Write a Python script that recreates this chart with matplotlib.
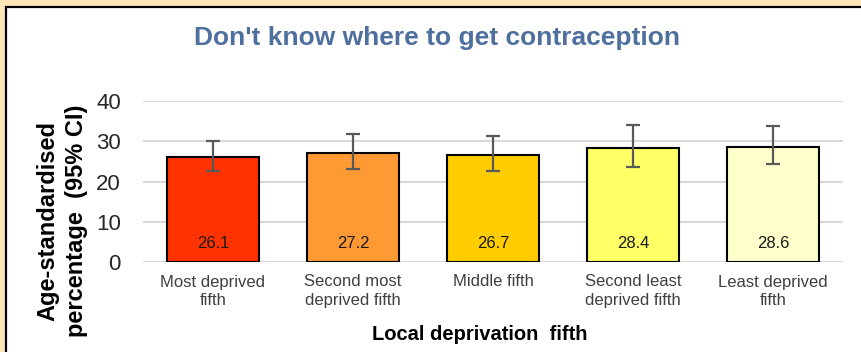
import matplotlib
matplotlib.use("Agg")
import matplotlib.pyplot as plt
from matplotlib.patches import Rectangle

plt.rcParams['font.family'] = ['Liberation Sans', 'DejaVu Sans']

categories = ["Most deprived\nfifth", "Second most\ndeprived fifth", "Middle fifth",
              "Second least\ndeprived fifth", "Least deprived\nfifth"]
values = [26.1, 27.2, 26.7, 28.4, 28.6]
ci_low = [22.7, 23.2, 22.7, 23.6, 24.3]
ci_high = [30.0, 31.7, 31.3, 34.0, 33.7]
colors = ["#FF3300", "#FF9933", "#FFCC00", "#FFFF66", "#FFFFCC"]
yticks = [0, 10, 20, 30, 40]

W, H = 861, 352
fig = plt.figure(figsize=(W / 100, H / 100), dpi=100)
fig.patch.set_facecolor("#FFE6B8")

# white panel with black frame (cut off at right/bottom)
frame = Rectangle((5.5 / W, -0.1), 1.2, (H - 6.5) / H + 0.1, transform=fig.transFigure,
                  facecolor="white", edgecolor="black", linewidth=1.6, zorder=-10)
fig.patches.append(frame)

ax = fig.add_axes([143 / W, 1 - 262 / H, 700 / W, 161 / H])
ax.set_facecolor("none")

x = list(range(len(values)))
yerr = [[v - lo for v, lo in zip(values, ci_low)], [hi - v for v, hi in zip(values, ci_high)]]
ax.bar(x, values, width=0.66, color=colors, edgecolor="black", linewidth=1.5, zorder=2)
ax.errorbar(x, values, yerr=yerr, fmt="none", ecolor="#595959", elinewidth=1.6,
            capsize=5, capthick=1.6, zorder=3)

for xi, v in zip(x, values):
    ax.text(xi, 4.7, f"{v:.1f}", ha="center", va="center", fontsize=12, color="#1a1a1a", zorder=4)

ax.set_xlim(-0.5, len(values) - 0.5)
ax.set_ylim(0, 40)
ax.set_yticks(yticks)
ax.set_yticklabels([str(t) for t in yticks], fontsize=16, color="#262626")
ax.set_xticks(x)
ax.set_xticklabels(categories, fontsize=12, color="#404040", linespacing=1.3)
ax.tick_params(axis="both", length=0)
ax.tick_params(axis="y", pad=16)
ax.tick_params(axis="x", pad=9)
ax.grid(axis="y", color="#D9D9D9", linewidth=1.5, zorder=0)
ax.set_axisbelow(True)
for s in ax.spines.values():
    s.set_visible(False)

fig.text(437 / W, 1 - 38 / H, "Don't know where to get contraception", ha="center", va="center",
         fontsize=19, fontweight="bold", color="#4F6F9F")
fig.text(62 / W, 1 - 221 / H, "Age-standardised\npercentage  (95% CI)", rotation=90,
         ha="center", va="center", multialignment="center", fontsize=17, fontweight="bold",
         linespacing=1.3)
fig.text(480 / W, 1 - 335 / H, "Local deprivation  fifth", ha="center", va="center",
         fontsize=14.5, fontweight="bold")

fig.savefig("out.png", dpi=100)
